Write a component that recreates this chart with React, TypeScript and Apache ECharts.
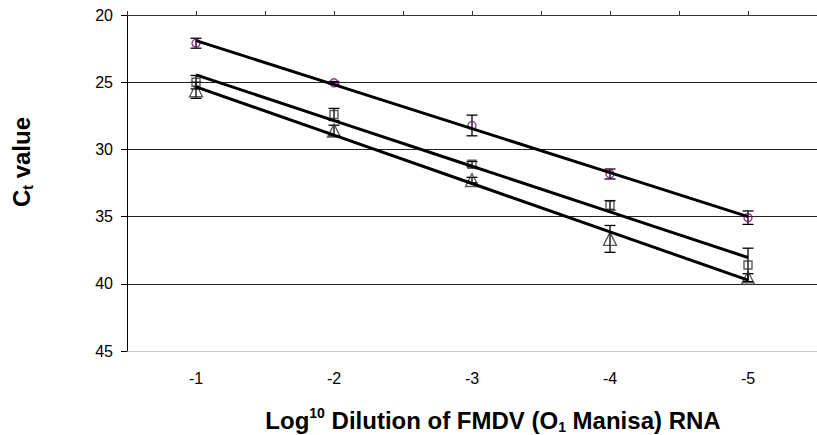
import React, { useEffect, useRef } from "react";
import * as echarts from "echarts";

const categories = ["-1", "-2", "-3", "-4", "-5"];
const circleMeans = [22.1, 25.05, 28.22, 31.83, 35.08];
const circleErr = [0.37, 0.1, 0.77, 0.37, 0.5];
const squareMeans = [25.0, 27.4, 31.1, 34.16, 38.6];
const squareErr = [0.5, 0.45, 0.2, 0.35, 1.25];
const triangleMeans = [25.6, 28.6, 32.28, 36.66, 39.55];
const triangleErr = [0.6, 0.4, 0.2, 1.0, 0.3];
const yTicks = [20, 25, 30, 35, 40, 45];

const FONT = "'Liberation Sans', Arial, Helvetica, sans-serif";

function fit(values: number[]): number[] {
  const n = values.length;
  const xs = values.map((_, i) => i + 1);
  const mx = xs.reduce((a, b) => a + b, 0) / n;
  const my = values.reduce((a, b) => a + b, 0) / n;
  let sxy = 0;
  let sxx = 0;
  for (let i = 0; i < n; i++) {
    sxy += (xs[i] - mx) * (values[i] - my);
    sxx += (xs[i] - mx) * (xs[i] - mx);
  }
  const slope = sxy / sxx;
  return xs.map((x) => my + slope * (x - mx));
}

function errorSeries(means: number[], errs: number[]) {
  return {
    type: "custom",
    xAxisIndex: 0,
    yAxisIndex: 0,
    z: 2,
    silent: true,
    data: means.map((m, i) => [i, m - errs[i], m + errs[i]]),
    encode: { x: 0, y: [1, 2] },
    renderItem: (params: any, api: any) => {
      const idx = api.value(0);
      const lo = api.coord([idx, api.value(1)]);
      const hi = api.coord([idx, api.value(2)]);
      const w = 5.5;
      const st = { stroke: "#000", lineWidth: 1.3 };
      return {
        type: "group",
        children: [
          { type: "line", shape: { x1: lo[0], y1: lo[1], x2: hi[0], y2: hi[1] }, style: st },
          { type: "line", shape: { x1: lo[0] - w, y1: lo[1], x2: lo[0] + w, y2: lo[1] }, style: st },
          { type: "line", shape: { x1: hi[0] - w, y1: hi[1], x2: hi[0] + w, y2: hi[1] }, style: st },
        ],
      };
    },
  };
}

function markerSeries(means: number[], symbol: string, size: number | number[], color: string) {
  return {
    type: "scatter",
    xAxisIndex: 0,
    yAxisIndex: 0,
    z: 3,
    symbol,
    symbolSize: size,
    itemStyle: { color: "rgba(0,0,0,0)", borderColor: color, borderWidth: 1.4 },
    data: means,
  };
}

function trendSeries(means: number[]) {
  return {
    type: "line",
    xAxisIndex: 0,
    yAxisIndex: 0,
    z: 4,
    symbol: "none",
    lineStyle: { color: "#000", width: 3 },
    data: fit(means),
  };
}

export default function App() {
  const ref = useRef<HTMLDivElement>(null);
  useEffect(() => {
    if (!ref.current) return;
    const chart = echarts.init(ref.current, null, { renderer: "svg" });
    const option: any = {
      animation: false,
      backgroundColor: "#fff",
      textStyle: { fontFamily: FONT },
      grid: { left: 127, top: 15, right: -6, bottom: 84, containLabel: false },
      xAxis: [
        {
          type: "category",
          data: categories,
          position: "bottom",
          boundaryGap: true,
          axisLine: { show: false },
          axisTick: { show: false },
          axisLabel: { fontSize: 16, color: "#000", margin: 19, fontFamily: FONT },
          splitLine: { show: false },
        },
        {
          type: "value",
          position: "top",
          min: 0.5,
          max: 5.5,
          interval: 0.5,
          axisLine: { show: true, onZero: false, lineStyle: { color: "#333", width: 1 } },
          axisTick: { show: true, length: 4, lineStyle: { color: "#333", width: 1 } },
          axisLabel: { show: false },
          splitLine: { show: false },
        },
      ],
      yAxis: {
        type: "value",
        inverse: true,
        min: yTicks[0],
        max: yTicks[yTicks.length - 1],
        interval: 5,
        axisLine: { show: true, onZero: false, lineStyle: { color: "#000", width: 1 } },
        axisTick: { show: true, length: 6, lineStyle: { color: "#000", width: 1 } },
        axisLabel: { fontSize: 16, color: "#000", margin: 14, fontFamily: FONT },
        splitLine: {
          show: true,
          lineStyle: { color: ["#333", "#222", "#222", "#222", "#222", "#c8c8c8"], width: 1 },
        },
      },
      graphic: [
        {
          type: "text",
          x: 493,
          y: 420,
          style: {
            text: "{a|Log}{sup|10}{a| Dilution of FMDV (O}{sub|1}{a| Manisa) RNA}",
            align: "center",
            verticalAlign: "middle",
            fill: "#000",
            rich: {
              a: { fontSize: 24, fontWeight: "bold", fontFamily: FONT, lineHeight: 28, fill: "#000" },
              sup: { fontSize: 14, fontWeight: "bold", fontFamily: FONT, lineHeight: 14, verticalAlign: "top", fill: "#000" },
              sub: { fontSize: 14, fontWeight: "bold", fontFamily: FONT, lineHeight: 14, verticalAlign: "bottom", fill: "#000" },
            },
          },
        },
        {
          type: "text",
          x: 21,
          y: 162,
          rotation: Math.PI / 2,
          style: {
            text: "{a|C}{sub|t}{a| value}",
            align: "center",
            verticalAlign: "middle",
            fill: "#000",
            rich: {
              a: { fontSize: 24, fontWeight: "bold", fontFamily: FONT, lineHeight: 28, fill: "#000" },
              sub: { fontSize: 14, fontWeight: "bold", fontFamily: FONT, lineHeight: 14, verticalAlign: "bottom", fill: "#000" },
            },
          },
        },
      ],
      series: [
        errorSeries(circleMeans, circleErr),
        errorSeries(squareMeans, squareErr),
        errorSeries(triangleMeans, triangleErr),
        markerSeries(circleMeans, "circle", 8, "#800080"),
        markerSeries(squareMeans, "rect", 8, "#333"),
        markerSeries(triangleMeans, "triangle", [13, 13], "#333"),
        trendSeries(circleMeans),
        trendSeries(squareMeans),
        trendSeries(triangleMeans),
      ],
    };
    chart.setOption(option);
    return () => chart.dispose();
  }, []);
  return (
    <div
      ref={ref}
      style={{ position: "fixed", left: 0, top: 0, width: 817, height: 435, background: "#fff" }}
    />
  );
}
